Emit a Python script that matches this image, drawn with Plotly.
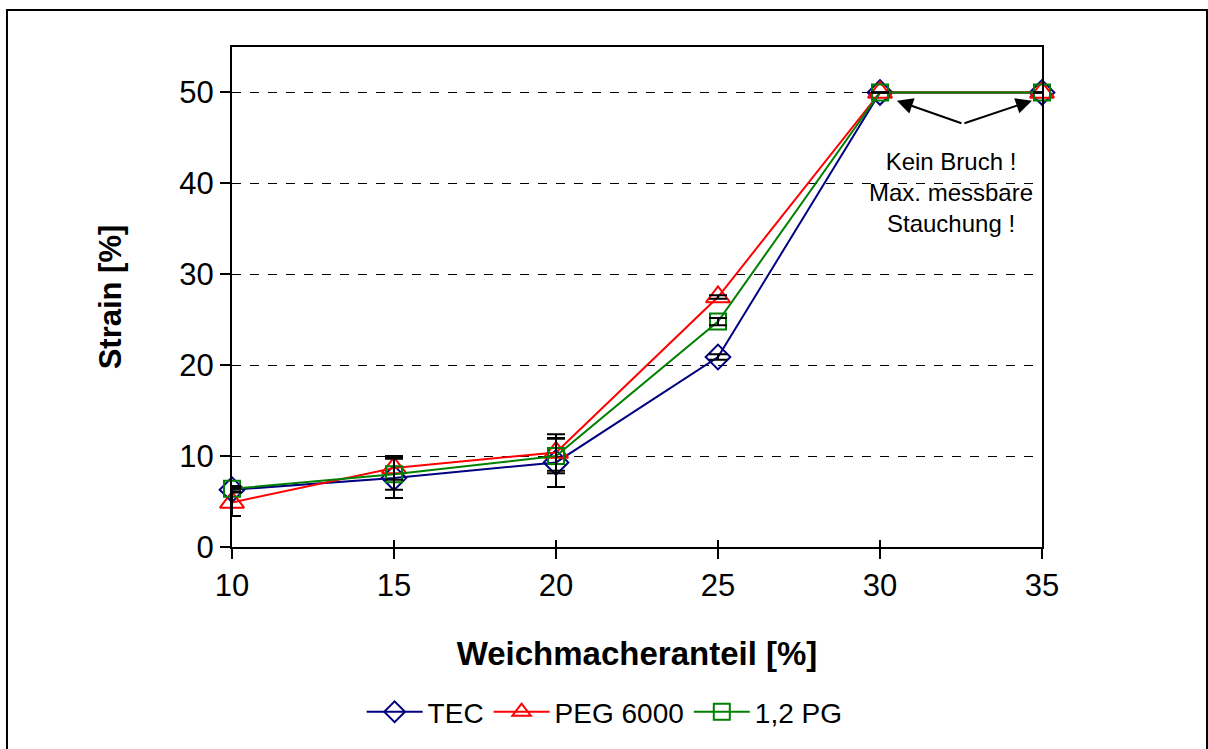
import plotly.graph_objects as go

# Plasticizer content (%) and measured strain at break (%)
weichmacher = [10, 15, 20, 25, 30, 35]

tec_strain = [6.3, 7.6, 9.3, 20.9, 50, 50]
tec_err = [0.3, 2.2, 2.7, 0.3, 0, 0]

peg_strain = [4.9, 8.7, 10.4, 27.5, 50, 50]
peg_err = [1.5, 1.3, 2.0, 0.2, 0, 0]

pg_strain = [6.4, 8.0, 10.0, 24.8, 50, 50]
pg_err = [0.3, 1.7, 1.9, 0.4, 0, 0]

y_ticks = [0, 10, 20, 30, 40, 50]
x_ticks = [10, 15, 20, 25, 30, 35]

FONT = "Liberation Sans, Arial, sans-serif"

series = [
    ("TEC", tec_strain, tec_err, "#000080", "diamond-open", 19),
    ("PEG 6000", peg_strain, peg_err, "#FF0000", "triangle-up-open", 21),
    ("1,2 PG", pg_strain, pg_err, "#008000", "square-open", 16),
]

fig = go.Figure()

for name, vals, errs, color, symbol, size in series:
    fig.add_trace(go.Scatter(
        x=weichmacher, y=vals, name=name, mode="lines+markers",
        cliponaxis=False,
        line=dict(color=color, width=2),
        marker=dict(symbol=symbol, size=size, color=color,
                    line=dict(color=color, width=2)),
    ))

# error bars drawn on top of all series
for name, vals, errs, color, symbol, size in series:
    fig.add_trace(go.Scatter(
        x=weichmacher, y=vals, mode="markers", showlegend=False,
        hoverinfo="skip", cliponaxis=False,
        marker=dict(size=1, color="rgba(0,0,0,0)"),
        error_y=dict(type="data", array=errs, visible=True,
                     color="black", thickness=2, width=9),
    ))

fig.update_layout(
    width=1208, height=749,
    margin=dict(l=232, r=166, t=47, b=202),
    paper_bgcolor="white", plot_bgcolor="white",
    font=dict(family=FONT, color="black", size=28),
    showlegend=True,
    legend=dict(orientation="h", x=0.46, y=-0.33, xanchor="center",
                yanchor="middle", font=dict(size=28, family=FONT),
                itemwidth=56, bgcolor="rgba(0,0,0,0)", tracegroupgap=0),
    xaxis=dict(
        range=[10, 35], tickvals=x_ticks, ticks="outside", ticklen=10,
        tickwidth=2, tickcolor="black", showline=True, linecolor="black",
        linewidth=2, mirror=True, showgrid=False, zeroline=False,
        tickfont=dict(size=31, family=FONT),
        title=dict(text="<b>Weichmacheranteil [%]</b>",
                   font=dict(size=33, family=FONT), standoff=40),
    ),
    xaxis2=dict(
        range=[10, 35], tickvals=x_ticks, ticks="inside", ticklen=7,
        tickwidth=2, tickcolor="black", showticklabels=False,
        showgrid=False, zeroline=False, overlaying="x", side="bottom",
        anchor="y",
    ),
    yaxis=dict(
        range=[0, 55], tickvals=y_ticks, ticks="outside", ticklen=10,
        tickwidth=2, tickcolor="black", showline=True, linecolor="black",
        linewidth=2, mirror=True, showgrid=True, gridcolor="black",
        gridwidth=1, griddash="dash", zeroline=False,
        tickfont=dict(size=31, family=FONT),
        title=dict(text="<b>Strain [%]</b>",
                   font=dict(size=31, family=FONT), standoff=48),
    ),
)

# invisible trace to activate the crossing tick axis
fig.add_trace(go.Scatter(x=[10], y=[0], xaxis="x2", yaxis="y", mode="markers",
                         marker=dict(size=1, color="rgba(0,0,0,0)"),
                         showlegend=False, hoverinfo="skip"))

# note for the unbroken samples
fig.add_annotation(
    x=32.19, y=39.0, xref="x", yref="y", showarrow=False,
    text="Kein Bruch !<br>Max. messbare<br>Stauchung !",
    font=dict(size=24, family=FONT, color="black"), align="center",
)
for head_x in (30.52, 34.69):
    fig.add_annotation(
        x=head_x, y=49.1, ax=32.56, ay=46.56, xref="x", yref="y",
        axref="x", ayref="y", text="", showarrow=True,
        arrowhead=2, arrowsize=1.6, arrowwidth=2, arrowcolor="black",
    )

# outer chart frame
fig.add_shape(type="rect", xref="paper", yref="paper",
              x0=-0.2778, x1=1.2037, y0=-0.6, y1=1.074,
              line=dict(color="black", width=2), layer="below")

fig.write_html("out.html")
